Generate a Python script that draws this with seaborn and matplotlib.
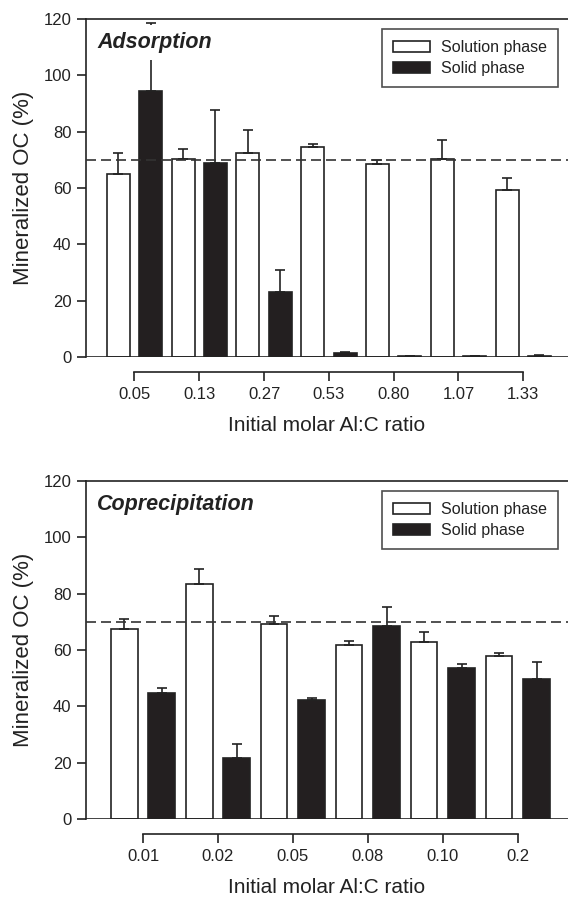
import matplotlib
matplotlib.use("Agg")
import matplotlib.pyplot as plt
import seaborn as sns
import pandas as pd

# Adsorption series
ads_ratio = ["0.05", "0.13", "0.27", "0.53", "0.80", "1.07", "1.33"]
ads_solution = [64.9, 70.4, 72.5, 74.6, 68.4, 70.4, 59.4]
ads_solution_err = [7.5, 3.4, 8.1, 1.0, 1.5, 6.5, 4.0]
ads_solid = [94.4, 68.9, 23.0, 1.3, 0.4, 0.2, 0.4]
ads_solid_err = [24.3, 18.9, 7.9, 0.6, 0.1, 0.1, 0.2]

# Coprecipitation series
cop_ratio = ["0.01", "0.02", "0.05", "0.08", "0.10", "0.2"]
cop_solution = [67.6, 83.5, 69.1, 61.7, 62.8, 57.9]
cop_solution_err = [3.3, 5.4, 2.9, 1.6, 3.6, 1.1]
cop_solid = [44.9, 21.7, 42.1, 68.5, 53.6, 49.8]
cop_solid_err = [1.5, 5.0, 1.0, 6.6, 1.5, 5.9]

phases = ["Solution phase", "Solid phase"]
reference_level = 70
dark = "#231f20"

sns.set_theme(style="ticks")
plt.rcParams["font.family"] = ["Liberation Sans", "DejaVu Sans"]
plt.rcParams["text.color"] = "#222222"
plt.rcParams["axes.labelcolor"] = "#222222"
plt.rcParams["xtick.color"] = "#222222"
plt.rcParams["ytick.color"] = "#222222"

fig = plt.figure(figsize=(5.68, 9.01), dpi=100)
ax_top = fig.add_axes([0.1514, 0.6038, 0.8486, 0.3751])
ax_bot = fig.add_axes([0.1514, 0.0910, 0.8486, 0.3751])


def draw_panel(ax, ratios, sol, sol_err, solid, solid_err, title, xlim):
    df = pd.DataFrame({
        "ratio": ratios * 2,
        "phase": [phases[0]] * len(ratios) + [phases[1]] * len(ratios),
        "value": sol + solid,
    })
    sns.barplot(data=df, x="ratio", y="value", hue="phase", order=ratios,
                hue_order=phases, palette={phases[0]: "white", phases[1]: dark},
                width=1.0, gap=0.29, edgecolor="#222222", linewidth=1.2,
                errorbar=None, saturation=1, ax=ax, zorder=2)

    # one-sided error bars (upper only)
    pos = list(range(len(ratios)))
    for offset, vals, errs in [(-0.25, sol, sol_err), (0.25, solid, solid_err)]:
        ax.errorbar([p + offset for p in pos], vals,
                    yerr=[[0] * len(vals), errs], fmt="none",
                    ecolor="#222222", elinewidth=1.2, capsize=3.8,
                    capthick=1.2, zorder=3)

    ax.axhline(reference_level, color="#333333", lw=1.2, dashes=(6, 3), zorder=4)
    ax.axhline(0, color="#222222", lw=1.2, zorder=4)

    ax.set_ylim(0, 120)
    ax.set_yticks(range(0, 121, 20))
    ax.set_xlim(*xlim)

    for s in ["left", "top", "bottom"]:
        ax.spines[s].set_color("#222222")
        ax.spines[s].set_linewidth(1.2)
    ax.spines["right"].set_visible(False)
    ax.spines["bottom"].set_position(("outward", 11))
    ax.spines["bottom"].set_bounds(0, len(ratios) - 1)
    ax.tick_params(axis="both", direction="out", length=6.5, width=1.2,
                   labelsize=12, pad=4)

    ax.set_ylabel("Mineralized OC (%)", fontsize=16, labelpad=7)
    ax.set_xlabel("Initial molar Al:C ratio", fontsize=15, labelpad=10)

    ax.text(0.023, 0.93, title, transform=ax.transAxes, fontsize=15.5,
            fontweight="bold", fontstyle="italic", va="center", ha="left",
            bbox=dict(facecolor="white", edgecolor="none", pad=5), zorder=6)

    handles, labels = ax.get_legend_handles_labels()
    leg = ax.legend(handles, labels, loc="upper right",
                    bbox_to_anchor=(0.98, 0.97), borderaxespad=0,
                    frameon=True, fancybox=False, fontsize=11.5,
                    handlelength=2.3, handleheight=0.65, handletextpad=0.7,
                    labelspacing=0.35, borderpad=0.7)
    leg.get_frame().set_edgecolor("#222222")
    leg.get_frame().set_linewidth(1.2)
    leg.set_zorder(7)


draw_panel(ax_top, ads_ratio, ads_solution, ads_solution_err, ads_solid,
           ads_solid_err, "Adsorption", (-0.748, 6.69))
draw_panel(ax_bot, cop_ratio, cop_solution, cop_solution_err, cop_solid,
           cop_solid_err, "Coprecipitation", (-0.761, 5.67))

fig.savefig("out.png", dpi=100)
